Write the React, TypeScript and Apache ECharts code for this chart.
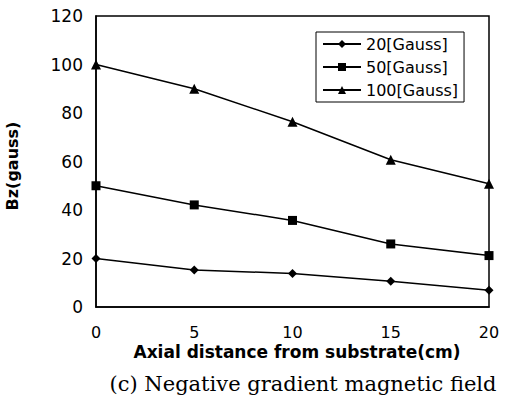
import React, { useEffect, useRef } from "react";
import * as echarts from "echarts";

const xValues = [0, 5, 10, 15, 20];
const g20 = [20, 15.3, 13.8, 10.6, 6.9];
const g50 = [50, 42.1, 35.7, 26, 21.2];
const g100 = [100, 90, 76.4, 60.7, 50.8];
const seriesNames = ["20[Gauss]", "50[Gauss]", "100[Gauss]"];
const seriesSymbols = ["diamond", "rect", "triangle"];
const seriesSizes = [9, 9, 10];

export default function App() {
  const ref = useRef<HTMLDivElement>(null);
  useEffect(() => {
    document.body.style.margin = "0";
    if (!ref.current) return;
    const chart = echarts.init(ref.current, null, { renderer: "svg" });
    const all = [g20, g50, g100];
    chart.setOption({
      animation: false,
      backgroundColor: "#ffffff",
      grid: {
        left: 96,
        right: 38,
        top: 16,
        bottom: 97,
        show: true,
        borderColor: "#000",
        borderWidth: 1.5,
      },
      legend: {
        orient: "vertical",
        left: 316,
        top: 32,
        borderColor: "#000",
        borderWidth: 1,
        padding: [4, 6, 4, 6],
        itemGap: 7,
        itemWidth: 38,
        itemHeight: 10,
        textStyle: { fontFamily: "DejaVu Sans", fontSize: 16, color: "#000" },
        data: seriesNames,
      },
      xAxis: {
        type: "value",
        min: 0,
        max: 20,
        interval: 5,
        axisLine: { show: true, lineStyle: { color: "#000", width: 1.5 } },
        axisTick: { show: false },
        splitLine: { show: false },
        axisLabel: {
          margin: 17,
          fontFamily: "DejaVu Sans",
          fontSize: 16,
          lineHeight: 16,
          color: "#000",
        },
      },
      yAxis: {
        type: "value",
        min: 0,
        max: 120,
        interval: 20,
        axisLine: { show: true, lineStyle: { color: "#000", width: 1.5 } },
        axisTick: { show: false },
        splitLine: { show: false },
        axisLabel: {
          margin: 13,
          fontFamily: "DejaVu Sans",
          fontSize: 17,
          color: "#000",
        },
      },
      series: all.map((vals, i) => ({
        name: seriesNames[i],
        type: "line",
        data: xValues.map((x, j) => [x, vals[j]]),
        symbol: seriesSymbols[i],
        symbolSize: seriesSizes[i],
        showAllSymbol: true,
        lineStyle: { color: "#000", width: 1.5 },
        itemStyle: { color: "#000" },
        emphasis: { disabled: true },
      })),
      graphic: [
        {
          type: "text",
          x: 12,
          y: 166,
          rotation: Math.PI / 2,
          style: {
            text: "Bz(gauss)",
            fontFamily: "DejaVu Sans",
            fontWeight: "bold",
            fontSize: 16,
            fill: "#000",
            textAlign: "center",
            textVerticalAlign: "middle",
          },
        },
        {
          type: "text",
          x: 297,
          y: 352,
          style: {
            text: "Axial distance from substrate(cm)",
            fontFamily: "DejaVu Sans",
            fontWeight: "bold",
            fontSize: 17,
            lineHeight: 17,
            fill: "#000",
            textAlign: "center",
            textVerticalAlign: "middle",
          },
        },
        {
          type: "text",
          x: 303,
          y: 384,
          style: {
            text: "(c) Negative gradient magnetic field",
            fontFamily: "DejaVu Serif",
            fontSize: 21,
            fill: "#000",
            textAlign: "center",
            textVerticalAlign: "middle",
          },
        },
      ],
    });
    return () => chart.dispose();
  }, []);
  return <div ref={ref} style={{ width: 527, height: 404 }} />;
}
